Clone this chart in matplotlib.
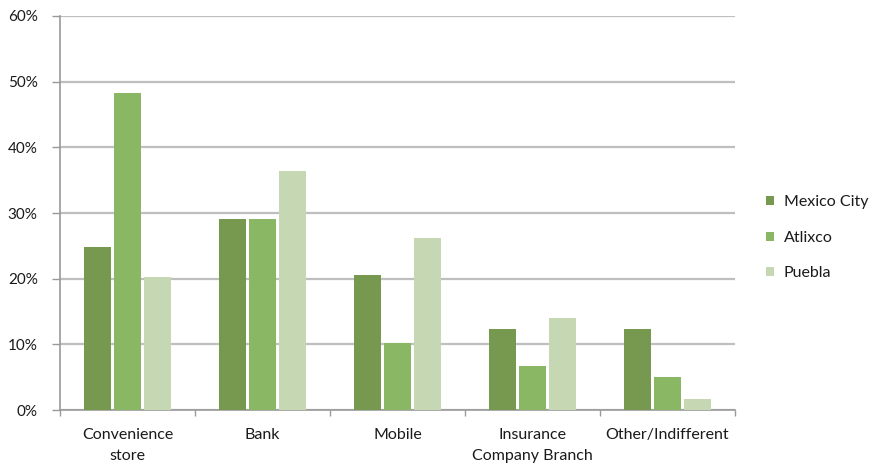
import matplotlib
matplotlib.use("Agg")
import matplotlib.pyplot as plt
import numpy as np

categories = ["Convenience\nstore", "Bank", "Mobile", "Insurance\nCompany Branch", "Other/Indifferent"]
series_names = ["Mexico City", "Atlixco", "Puebla"]
mexico_city = [24.8, 29.1, 20.5, 12.3, 12.3]
atlixco = [48.2, 29.1, 10.2, 6.7, 5.0]
puebla = [20.2, 36.4, 26.2, 14.0, 1.7]
y_ticks = [0, 10, 20, 30, 40, 50, 60]

colors = ["#76984f", "#8ab763", "#c6d7b3"]
grid_color = "#bfbfbf"
text_color = "#1a1a1a"
fs = 11.5

plt.rcParams["font.family"] = ["Lato", "DejaVu Sans"]

fig = plt.figure(figsize=(8.74, 4.66), dpi=100)
ax = fig.add_axes([0.0686, 0.120, 0.7724, 0.8457])

x = np.arange(len(categories))
width = 0.195
step = 0.222
for i, (vals, name) in enumerate(zip([mexico_city, atlixco, puebla], series_names)):
    ax.bar(x + (i - 1) * step, vals, width=width, color=colors[i], label=name, zorder=3)

ax.set_xlim(-0.5, len(categories) - 0.5)
ax.set_ylim(0, 60)
ax.set_yticks(y_ticks)
ax.set_yticklabels([f"{v}%" for v in y_ticks], fontsize=fs - 0.5, color=text_color)
ax.yaxis.grid(True, color=grid_color, linewidth=1.6, zorder=0)
ax.set_axisbelow(True)

# category labels centred, tick marks at group boundaries
ax.set_xticks(x)
ax.set_xticklabels(categories, fontsize=fs, color=text_color, linespacing=1.65)
ax.tick_params(axis="x", which="major", length=0, pad=13)
ax.set_xticks(np.arange(-0.5, len(categories)), minor=True)
ax.tick_params(axis="x", which="minor", length=4, color="#999999", width=1)
ax.tick_params(axis="y", length=6, color="#999999", width=1, pad=10)

for side in ["top", "right"]:
    ax.spines[side].set_visible(False)
for side in ["left", "bottom"]:
    ax.spines[side].set_color("#999999")
    ax.spines[side].set_linewidth(1.2)

leg = ax.legend(loc="center left", bbox_to_anchor=(1.025, 0.437), frameon=False,
                fontsize=fs, handlelength=0.5, handleheight=0.5,
                handletextpad=0.6, labelspacing=1.35)
for t in leg.get_texts():
    t.set_color(text_color)

fig.savefig("out.png", dpi=100)
